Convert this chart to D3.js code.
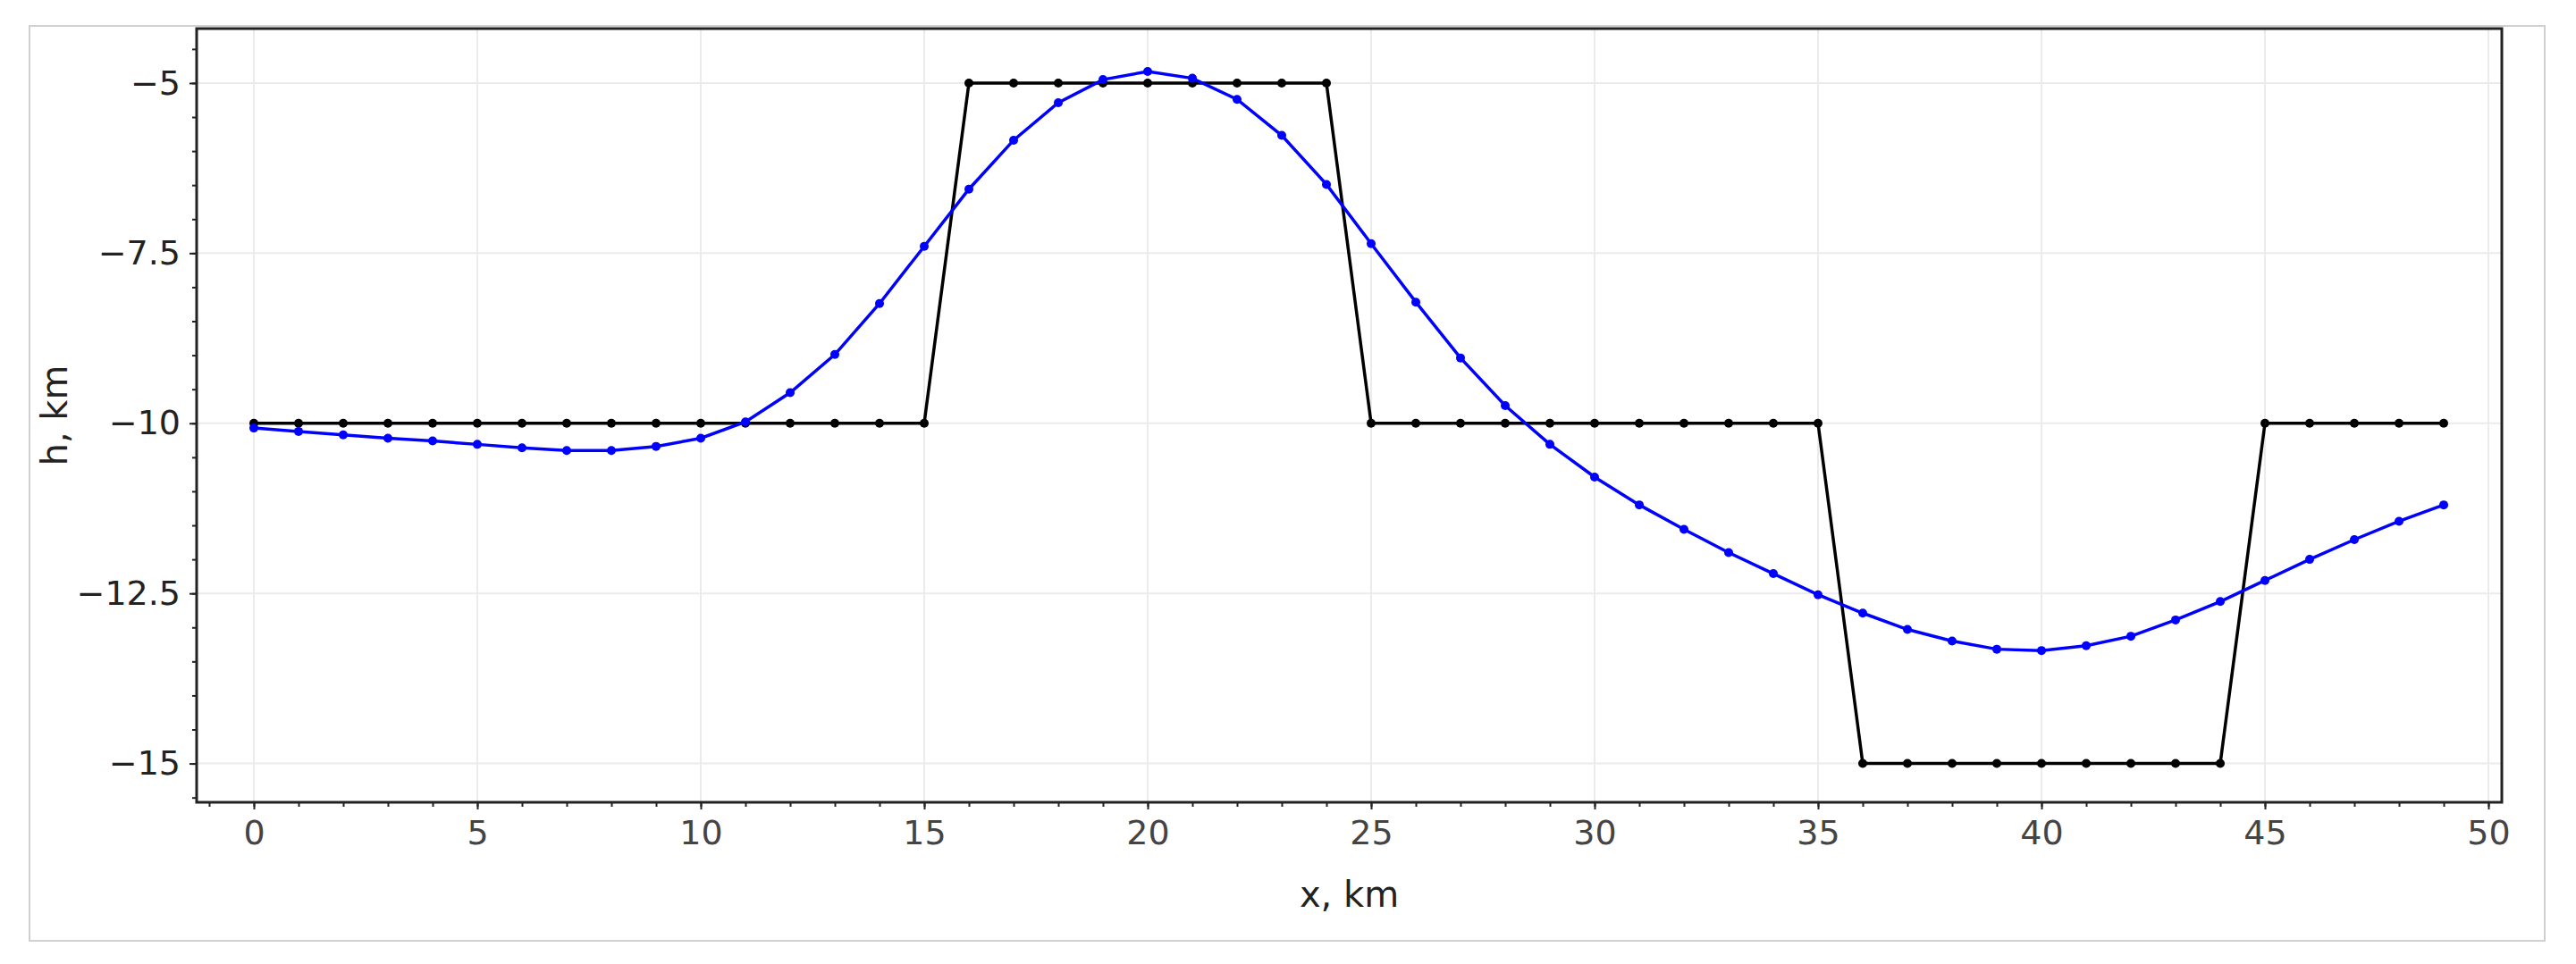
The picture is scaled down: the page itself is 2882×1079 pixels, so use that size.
<!DOCTYPE html>
<html><head><meta charset="utf-8">
<script src="https://cdn.jsdelivr.net/npm/d3@7"></script>
<style>body{margin:0;background:#fff}svg{display:block;font-family:"DejaVu Sans",sans-serif}</style>
</head><body>
<svg id="c" width="2882" height="1079"></svg>
<script>
const xs = d3.range(0, 50);
const topo = [-10,-10,-10,-10,-10,-10,-10,-10,-10,-10,-10,-10,-10,-10,-10,-10,
  -5,-5,-5,-5,-5,-5,-5,-5,-5,
  -10,-10,-10,-10,-10,-10,-10,-10,-10,-10,-10,
  -15,-15,-15,-15,-15,-15,-15,-15,-15,
  -10,-10,-10,-10,-10];
const smooth = [-10.07,-10.12,-10.17,-10.22,-10.26,-10.31,-10.36,-10.4,-10.4,-10.34,
  -10.22,-9.98,-9.55,-8.99,-8.24,-7.4,-6.56,-5.84,-5.29,-4.95,
  -4.83,-4.93,-5.24,-5.77,-6.49,-7.36,-8.22,-9.04,-9.74,-10.31,
  -10.79,-11.2,-11.56,-11.9,-12.21,-12.52,-12.79,-13.03,-13.2,-13.32,
  -13.34,-13.27,-13.13,-12.89,-12.62,-12.31,-12.0,-11.71,-11.44,-11.2];
const xTicks = [0,5,10,15,20,25,30,35,40,45,50];
const yTicks = [-5,-7.5,-10,-12.5,-15];

const svg = d3.select("#c");
const L=220,R=2799,T=32,B=898;
const x = d3.scaleLinear().domain([-1.28,50.3]).range([L,R]);
const y = d3.scaleLinear().domain([-15.57,-4.2]).range([B,T]);

svg.append("rect").attr("x",33).attr("y",29).attr("width",2814).attr("height",1024)
  .attr("fill","none").attr("stroke","#d0d0d0").attr("stroke-width",2);

const g = svg.append("g");
g.selectAll(".gx").data(xTicks).join("line").attr("x1",d=>x(d)).attr("x2",d=>x(d))
  .attr("y1",T).attr("y2",B).attr("stroke","#ebebeb").attr("stroke-width",2);
g.selectAll(".gy").data(yTicks).join("line").attr("y1",d=>y(d)).attr("y2",d=>y(d))
  .attr("x1",L).attr("x2",R).attr("stroke","#ebebeb").attr("stroke-width",2);

const fmt = d=> (d<0?"\u2212":"")+Math.abs(d);
const xa = svg.append("g").attr("transform",`translate(0,${B})`)
  .call(d3.axisBottom(x).tickValues(xTicks).tickFormat(fmt).tickSize(8).tickPadding(12));
const xm = svg.append("g").attr("transform",`translate(0,${B})`)
  .call(d3.axisBottom(x).tickValues(d3.range(-1,51)).tickFormat("").tickSize(5));
const ya = svg.append("g").attr("transform",`translate(${L},0)`)
  .call(d3.axisLeft(y).tickValues(yTicks).tickFormat(fmt).tickSize(8).tickPadding(10));
const ym = svg.append("g").attr("transform",`translate(${L},0)`)
  .call(d3.axisLeft(y).tickValues(d3.range(-15.5,-4.4,0.5)).tickFormat("").tickSize(5));
[xa,xm,ya,ym].forEach(a=>{a.attr("font-family",null);a.select(".domain").remove();a.selectAll("line").attr("stroke","#222").attr("stroke-width",2);});
[xa,ya].forEach(a=>a.selectAll("text").attr("font-size",38).attr("font-family","DejaVu Sans").attr("fill","#222"));
xa.selectAll("text").attr("fill","#444");

svg.append("rect").attr("x",L).attr("y",T).attr("width",R-L).attr("height",B-T)
  .attr("fill","none").attr("stroke","#222").attr("stroke-width",3);

function series(vals,col){
  const line = d3.line().x((d,i)=>x(xs[i])).y(d=>y(d));
  svg.append("path").datum(vals).attr("d",line).attr("fill","none").attr("stroke",col).attr("stroke-width",3.5);
  svg.append("g").selectAll("circle").data(vals).join("circle")
    .attr("cx",(d,i)=>x(xs[i])).attr("cy",d=>y(d)).attr("r",5).attr("fill",col);
}
series(topo,"#000");
series(smooth,"#0000ff");

svg.append("text").attr("x",(L+R)/2).attr("y",1015).attr("text-anchor","middle")
  .attr("font-size",40).attr("fill","#222").text("x, km");
svg.append("text").attr("transform",`translate(75,${(T+B)/2}) rotate(-90)`).attr("text-anchor","middle")
  .attr("font-size",40).attr("fill","#222").text("h, km");
</script></body></html>
